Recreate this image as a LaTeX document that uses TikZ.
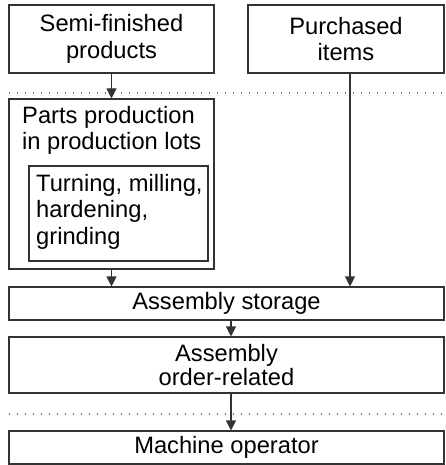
\documentclass[tikz,border=0pt]{standalone}
\usepackage{fontspec}
\setmainfont{Liberation Sans}
\usetikzlibrary{arrows.meta}
\begin{document}
\begin{tikzpicture}[x=1pt,y=-1pt,
  box/.style={draw=black!80,line width=1.1pt,inner sep=0pt,rectangle},
  txt/.style={font=\fontsize{23.7}{26.5}\selectfont,inner sep=0pt},
  flow/.style={draw=black!80,line width=1.1pt,-{Triangle[length=10pt,width=10pt]}},
  sep/.style={draw=black!55,line width=1.2pt,dash pattern=on 1.2pt off 6.8pt}]
\useasboundingbox (0,0) rectangle (445,465);
% boxes
\node[box,minimum width=205pt,minimum height=68pt] (semi) at (111.5,39) {};
\node[txt,align=center] (semitxt) at (semi.center) {Semi-finished\\products};
\node[box,minimum width=196pt,minimum height=68pt] (purch) at (346,39) {};
\node[txt,align=center] (purchtxt) at (purch.center) {Purchased\\items};
\node[box,minimum width=205pt,minimum height=170pt] (parts) at (111.5,184) {};
\node[txt,align=left,anchor=north west] (partstxt) at (22,106) {Parts production\\in production lots};
\node[box,minimum width=179pt,minimum height=95pt] (inner) at (118.5,213.5) {};
\node[txt,align=left,anchor=north west] (innertxt) at (36,174) {Turning, milling,\\hardening,\\grinding};
\node[box,minimum width=435pt,minimum height=33pt] (store) at (226.5,303.5) {};
\node[txt] (storetxt) at (store.center) {Assembly storage};
\node[box,minimum width=435pt,minimum height=56pt] (order) at (226.5,365) {};
\node[txt,align=center,font=\fontsize{23.7}{24.5}\selectfont] (ordertxt) at (order.center) {Assembly\\order-related};
\node[box,minimum width=435pt,minimum height=33pt] (mach) at (226.5,447.5) {};
\node[txt] (machtxt) at (mach.center) {Machine operator};
% separators
\coordinate (s1a) at (9,93); \coordinate (s1b) at (445,93);
\coordinate (s2a) at (9,414); \coordinate (s2b) at (445,414);
\draw[sep] (s1a) -- (s1b);
\draw[sep] (s2a) -- (s2b);
% connectors
\draw[flow] (semi.south) -- (parts.north);
\draw[flow] (parts.south) -- (parts.south |- store.north);
\draw[flow] (purch.south -| 350,0) -- (350,0 |- store.north);
\draw[flow] (store.south -| 231,0) -- (231,0 |- order.north);
\draw[flow] (order.south -| 231,0) -- (231,0 |- mach.north);
\end{tikzpicture}
\end{document}
